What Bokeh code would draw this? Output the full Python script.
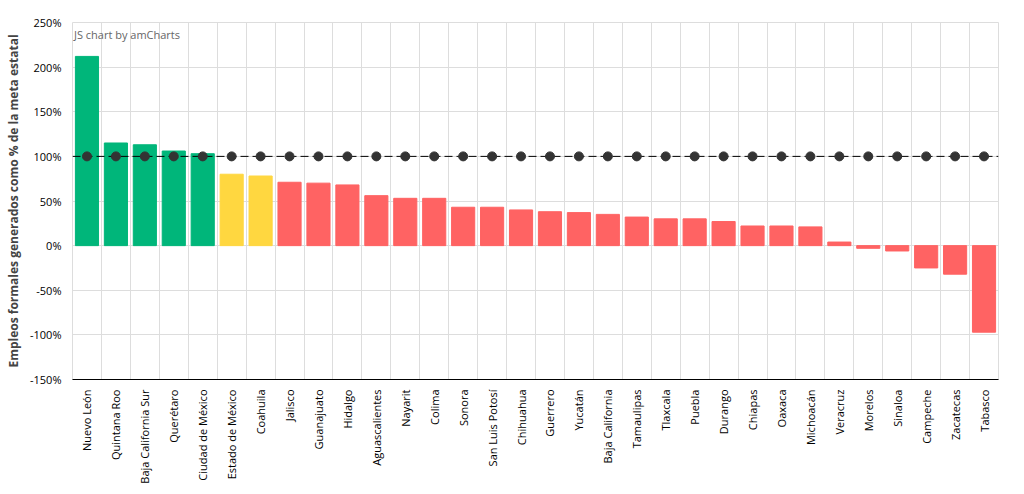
from bokeh.plotting import figure
from bokeh.models import FixedTicker, Range1d, Label
from bokeh.embed import file_html
from bokeh.resources import INLINE

states = ["Nuevo León", "Quintana Roo", "Baja California Sur", "Querétaro", "Ciudad de México",
          "Estado de México", "Coahuila", "Jalisco", "Guanajuato", "Hidalgo", "Aguascalientes",
          "Nayarit", "Colima", "Sonora", "San Luis Potosí", "Chihuahua", "Guerrero", "Yucatán",
          "Baja California", "Tamaulipas", "Tlaxcala", "Puebla", "Durango", "Chiapas", "Oaxaca",
          "Michoacán", "Veracruz", "Morelos", "Sinaloa", "Campeche", "Zacatecas", "Tabasco"]
values = [212, 115, 113, 106, 103, 80, 78, 71, 70, 68, 56, 53, 53, 43, 43, 40, 38, 37, 35,
          32, 30, 30, 27, 22, 22, 21, 4, -3, -6, -25, -32, -97]
target = [100] * len(states)

def color(v):
    if v >= 100:
        return "#00b67a"
    if v >= 75:
        return "#ffd740"
    return "#ff6363"

xs = list(range(len(states)))
colors = [color(v) for v in values]

p = figure(width=1008, height=486, output_backend="svg", toolbar_location=None,
           x_range=Range1d(-0.5, len(states) - 0.5), y_range=Range1d(-150, 250),
           min_border_left=72, min_border_right=10, min_border_top=22)
p.outline_line_color = "#dddddd"
p.background_fill_color = "white"

p.vbar(x=xs, top=values, bottom=0, width=0.8, color=colors)
p.line(x=[-0.5, len(states) - 0.5], y=[100, 100], line_color="black", line_dash="8 4", line_width=1)
p.scatter(x=xs, y=target, size=9, color="#333333")

p.xaxis.ticker = FixedTicker(ticks=xs)
p.xaxis.major_label_overrides = {i: s for i, s in enumerate(states)}
p.xaxis.major_label_orientation = 1.5708
p.xaxis.major_label_standoff = 4
p.xgrid.ticker = FixedTicker(ticks=[i + 0.5 for i in xs] + [-0.5])
p.yaxis.ticker = FixedTicker(ticks=list(range(-150, 251, 50)))
p.yaxis.major_label_overrides = {v: f"{v}%" for v in range(-150, 251, 50)}
p.grid.grid_line_color = "#dddddd"
for ax in (p.xaxis, p.yaxis):
    ax.major_label_text_font = "Open Sans"
    ax.major_label_text_font_size = "11px"
    ax.major_label_text_color = "#000000"
    ax.axis_line_color = "#000000"
    ax.major_tick_line_color = None
    ax.minor_tick_line_color = None
p.yaxis.axis_line_color = None
p.yaxis.axis_label = "Empleos formales generados como % de la meta estatal"
p.yaxis.axis_label_text_font = "Open Sans"
p.yaxis.axis_label_text_font_style = "bold"
p.yaxis.axis_label_text_font_size = "12px"

p.add_layout(Label(x=-0.45, y=237, text="JS chart by amCharts", text_baseline="middle",
                   text_font="Open Sans", text_font_size="11px", text_color="#666666"))

open("out.html", "w").write(file_html(p, INLINE))
